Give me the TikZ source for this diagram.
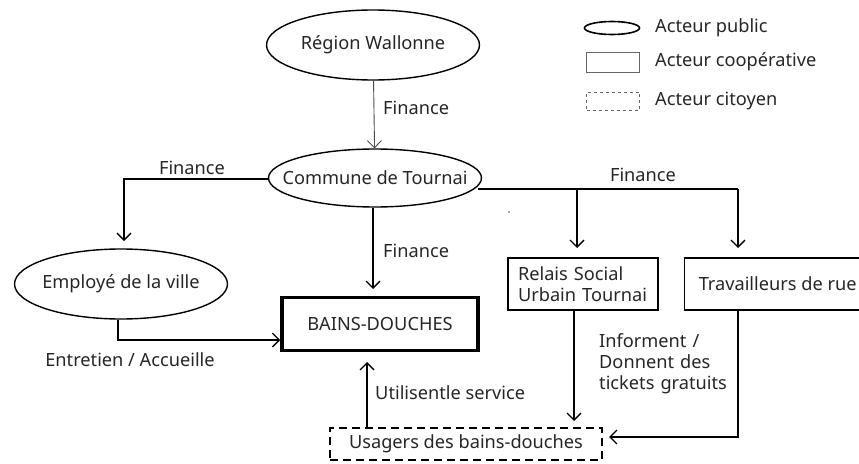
\documentclass[tikz,border=0pt]{standalone}
\usepackage{fontspec}
\setmainfont{Noto Sans}
\usetikzlibrary{shapes.geometric, positioning, arrows.meta}

\begin{document}
\begin{tikzpicture}[x=1pt, y=-1pt, font=\fontsize{18.2}{21}\selectfont, text=black!85,
	>={Straight Barb[length=7pt, width=14pt]},
	public/.style={draw, ellipse, line width=1.4pt, inner xsep=-20pt, inner ysep=0pt, minimum width=213, minimum height=70},
	coop/.style={draw, rectangle, line width=1.3pt, align=left, inner sep=0pt, minimum height=52},
	citoyen/.style={draw, rectangle, dashed, dash pattern=on 8pt off 5pt, line width=1.3pt, inner sep=0pt, minimum height=32},
	fleche/.style={->, line width=1.3pt},
	lbl/.style={anchor=west, inner sep=0pt}]
	\useasboundingbox (0, 0) rectangle (859, 463);
	% acteurs publics
	\node[public] (region) at (373, 45) {R\'egion Wallonne};
	\node[public, minimum height=58] (commune) at (375, 178) {Commune de Tournai};
	\node[public] (employe) at (121, 284) {Employ\'e de la ville};
	% bains-douches et cooperatives
	\node[draw, line width=3.5pt, minimum width=196, minimum height=53] (bains) at (380, 324) {BAINS-DOUCHES};
	\node[coop, minimum width=150, text width=130] (relais) at (583, 284) {Relais Social\\Urbain Tournai};
	\node[coop, minimum width=178, anchor=west] (travail) at (684, 284) {\hspace*{8pt}Travailleurs de rue\hfill};
	\node[citoyen, minimum width=272] (usagers) at (466, 444) {Usagers des bains-douches};
	% points de branchement
	\coordinate (g) at (124, 179);
	\coordinate (d) at (478, 189);
	\coordinate (b1) at (577, 189);
	\coordinate (b2) at (738, 189);
	\coordinate (e1) at (118, 340);
	\coordinate (t1) at (738, 437);
	\coordinate (bh) at (373, 289);
	\coordinate (ub) at (367, 362);
	\coordinate (ru) at (574, 421);
	\coordinate (tu) at (609, 437);
	% liens
	\draw[->, line width=0.9pt, black!70] (region) -- (commune);
	\node[lbl] (f1) at (383, 108) {Finance};
	\draw[fleche] (commune.west |- g) -- (g) -- (124, 241);
	\node (f2) at (192, 168) {Finance};
	\draw[fleche] (commune.south -| bh) -- (bh);
	\node[lbl] (f3) at (383, 251) {Finance};
	\draw[line width=1.3pt] (d) -- (b2);
	\draw[fleche] (b1) -- (577, 248);
	\draw[fleche] (b2) -- (738, 248);
	\node (f4) at (643, 175) {Finance};
	\fill[black!70] (509, 212) circle (0.8);
	\draw[fleche] (employe.south -| e1) -- (e1) -- (bains.west |- e1);
	\node (ent) at (130, 360) {Entretien / Accueille};
	\draw[fleche] (usagers.north -| ub) -- (ub);
	\node[lbl] (uti) at (375, 393) {Utilisentle service};
	\draw[fleche] (relais.south -| ru) -- (ru);
	\node[lbl, align=left, text width=130] (info) at (599, 364) {Informent /\\Donnent des\\tickets gratuits};
	\draw[fleche] (travail.south -| t1) -- (t1) -- (tu);
	% legende
	\node[draw, ellipse, line width=1.6pt, minimum width=55, minimum height=13, inner sep=0pt] (lpub) at (612, 28) {};
	\node[draw, black!60, line width=0.8pt, minimum width=53, minimum height=20, inner sep=0pt] (lcoop) at (613, 62) {};
	\node[draw, black!60, dashed, line width=0.8pt, minimum width=53, minimum height=18, inner sep=0pt] (lcit) at (613, 101) {};
	\node[lbl] (tpub) at (655, 28) {Acteur public};
	\node[lbl] (tcoop) at (655, 62) {Acteur coop\'erative};
	\node[lbl] (tcit) at (655, 101) {Acteur citoyen};
\end{tikzpicture}
\end{document}
